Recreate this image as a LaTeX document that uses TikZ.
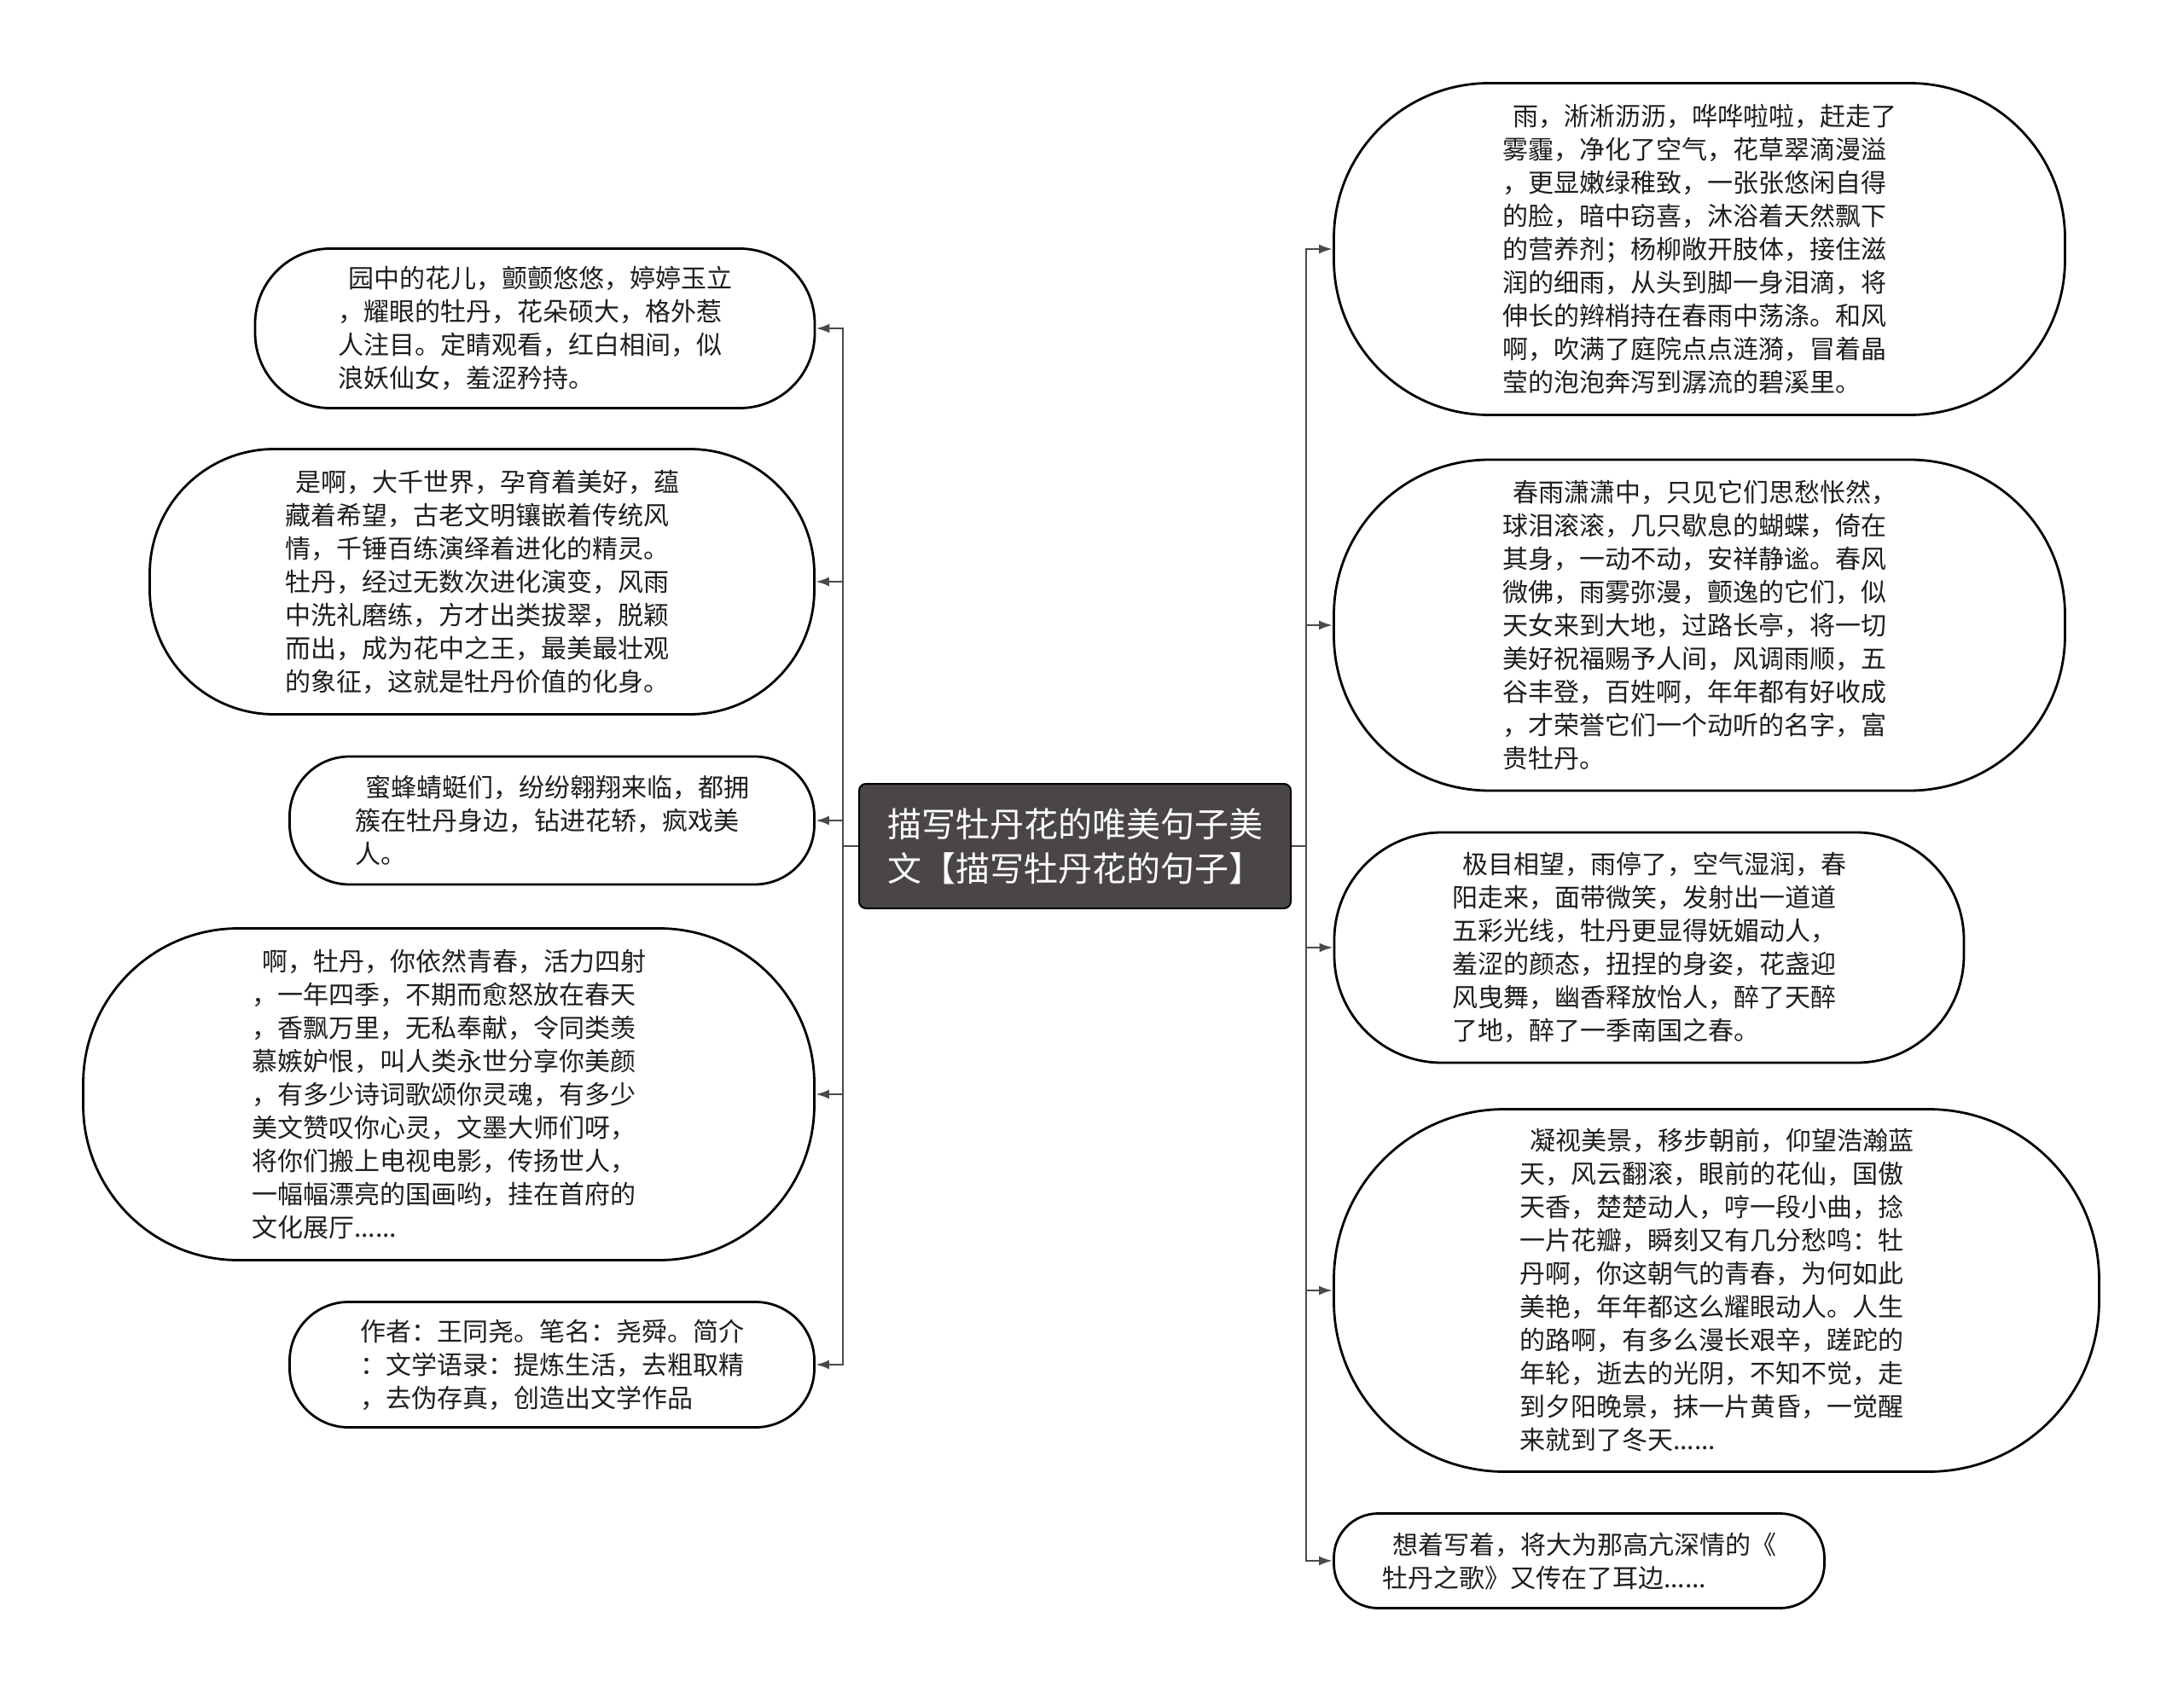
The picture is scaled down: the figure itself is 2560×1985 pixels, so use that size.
\documentclass[tikz,border=0pt]{standalone}
\usepackage{fontspec}
\usepackage{tikz}
\usetikzlibrary{arrows.meta}
\newfontfamily\cjkfont{Noto Sans CJK SC}
\definecolor{titlegray}{HTML}{4A4646}
\definecolor{linkgray}{HTML}{4A4A4A}
\definecolor{textblack}{HTML}{1E1E1E}

\begin{document}
\begin{tikzpicture}[x=0.5pt, y=-0.5pt,
    every node/.style={font=\cjkfont\fontsize{15pt}{19.5pt}\selectfont, text=textblack},
    leaf/.style={draw=black, line width=1.4pt, fill=white, align=left, inner sep=0pt},
    link/.style={draw=linkgray, line width=1.3pt, -{Latex[length=8pt,width=5.5pt]}}]
  \useasboundingbox[fill=white] (0,0) rectangle (2560,1985);

  % central topic
  \node[draw=black, fill=titlegray, rounded corners=4pt, line width=1pt,
    minimum width=253pt, minimum height=73pt, align=left, text=white,
    font=\cjkfont\fontsize{20pt}{26pt}\selectfont]
    (title) at (1260,992) {描写牡丹花的唯美句子美\\文【描写牡丹花的句子】};
  \coordinate (ltrunk) at (988,992);
  \coordinate (rtrunk) at (1531,992);

  % left side
  \node[leaf, minimum width=328pt, minimum height=93.5pt, rounded corners=44pt]
    (l1) at (627,385) {\hspace{.4em}园中的花儿，颤颤悠悠，婷婷玉立\\，耀眼的牡丹，花朵硕大，格外惹\\人注目。定睛观看，红白相间，似\\浪妖仙女，羞涩矜持。};
  \node[leaf, minimum width=389.5pt, minimum height=155.5pt, rounded corners=73pt]
    (l2) at (565,682) {\hspace{.4em}是啊，大千世界，孕育着美好，蕴\\藏着希望，古老文明镶嵌着传统风\\情，千锤百练演绎着进化的精灵。\\牡丹，经过无数次进化演变，风雨\\中洗礼磨练，方才出类拔翠，脱颖\\而出，成为花中之王，最美最壮观\\的象征，这就是牡丹价值的化身。};
  \node[leaf, minimum width=307.5pt, minimum height=75pt, rounded corners=35pt]
    (l3) at (647,962) {\hspace{.4em}蜜蜂蜻蜓们，纷纷翱翔来临，都拥\\簇在牡丹身边，钻进花轿，疯戏美\\人。};
  \node[leaf, minimum width=428.5pt, minimum height=194.5pt, rounded corners=91pt]
    (l4) at (526,1283) {\hspace{.4em}啊，牡丹，你依然青春，活力四射\\，一年四季，不期而愈怒放在春天\\，香飘万里，无私奉献，令同类羡\\慕嫉妒恨，叫人类永世分享你美颜\\，有多少诗词歌颂你灵魂，有多少\\美文赞叹你心灵，文墨大师们呀，\\将你们搬上电视电影，传扬世人，\\一幅幅漂亮的国画哟，挂在首府的\\文化展厅......};
  \node[leaf, minimum width=307.5pt, minimum height=73.5pt, rounded corners=34.5pt]
    (l5) at (647,1600) {作者：王同尧。笔名：尧舜。简介\\：文学语录：提炼生活，去粗取精\\，去伪存真，创造出文学作品};

  % right side
  \node[leaf, minimum width=428.5pt, minimum height=194.5pt, rounded corners=91pt]
    (r1) at (1992,292) {\hspace{.4em}雨，淅淅沥沥，哗哗啦啦，赶走了\\雾霾，净化了空气，花草翠滴漫溢\\，更显嫩绿稚致，一张张悠闲自得\\的脸，暗中窃喜，沐浴着天然飘下\\的营养剂；杨柳敞开肢体，接住滋\\润的细雨，从头到脚一身泪滴，将\\伸长的辫梢持在春雨中荡涤。和风\\啊，吹满了庭院点点涟漪，冒着晶\\莹的泡泡奔泻到潺流的碧溪里。};
  \node[leaf, minimum width=428.5pt, minimum height=194pt, rounded corners=91pt]
    (r2) at (1992,733) {\hspace{.4em}春雨潇潇中，只见它们思愁怅然，\\球泪滚滚，几只歇息的蝴蝶，倚在\\其身，一动不动，安祥静谧。春风\\微佛，雨雾弥漫，颤逸的它们，似\\天女来到大地，过路长亭，将一切\\美好祝福赐予人间，风调雨顺，五\\谷丰登，百姓啊，年年都有好收成\\，才荣誉它们一个动听的名字，富\\贵牡丹。};
  \node[leaf, minimum width=369pt, minimum height=135pt, rounded corners=63pt]
    (r3) at (1933,1111) {\hspace{.4em}极目相望，雨停了，空气湿润，春\\阳走来，面带微笑，发射出一道道\\五彩光线，牡丹更显得妩媚动人，\\羞涩的颜态，扭捏的身姿，花盏迎\\风曳舞，幽香释放怡人，醉了天醉\\了地，醉了一季南国之春。};
  \node[leaf, minimum width=448.5pt, minimum height=212.5pt, rounded corners=100pt]
    (r4) at (2012,1513) {\hspace{.4em}凝视美景，移步朝前，仰望浩瀚蓝\\天，风云翻滚，眼前的花仙，国傲\\天香，楚楚动人，哼一段小曲，捻\\一片花瓣，瞬刻又有几分愁鸣：牡\\丹啊，你这朝气的青春，为何如此\\美艳，年年都这么耀眼动人。人生\\的路啊，有多么漫长艰辛，蹉跎的\\年轮，逝去的光阴，不知不觉，走\\到夕阳晚景，抹一片黄昏，一觉醒\\来就到了冬天......};
  \node[leaf, minimum width=287.5pt, minimum height=55.5pt, rounded corners=26pt]
    (r5) at (1851,1830) {\hspace{.4em}想着写着，将大为那高亢深情的《\\牡丹之歌》又传在了耳边......};

  % connectors
  \foreach \leaf in {l1,l2,l3,l4,l5}
    \draw[link] (title.west) -- (ltrunk) |- (\leaf.east);
  \foreach \leaf in {r1,r2,r3,r4,r5}
    \draw[link] (title.east) -- (rtrunk) |- (\leaf.west);
\end{tikzpicture}
\end{document}
